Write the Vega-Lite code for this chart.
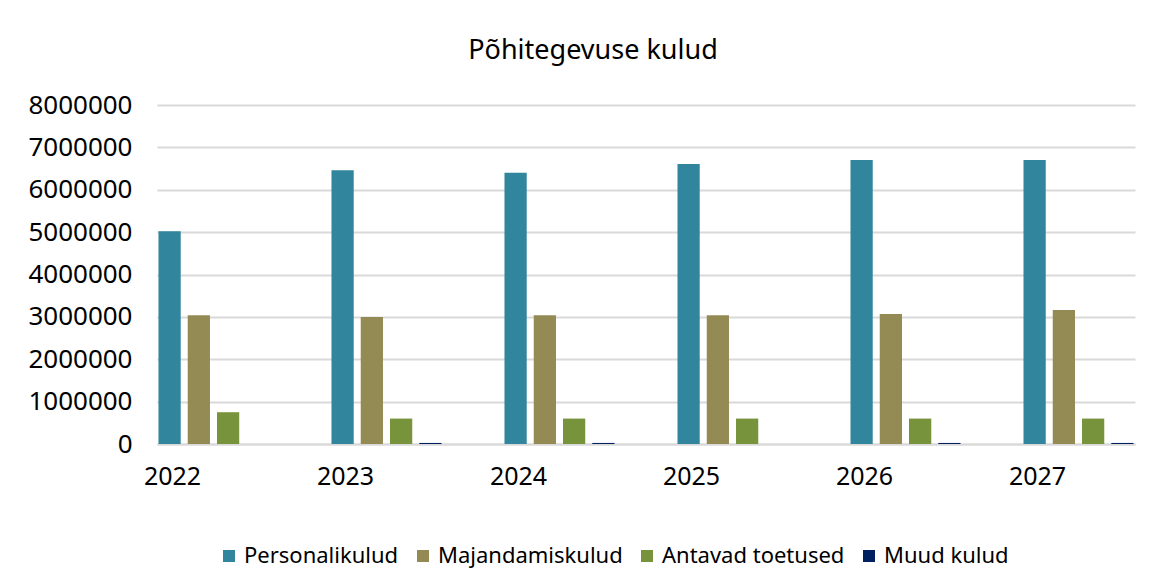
{
  "$schema": "https://vega.github.io/schema/vega-lite/v6.json",
  "width": 978,
  "height": 339,
  "autosize": {"type": "none"},
  "padding": {"left": 157, "top": 105, "right": 29, "bottom": 128},
  "background": "white",
  "title": {
    "text": "Põhitegevuse kulud",
    "font": "Noto Sans",
    "fontSize": 27,
    "fontWeight": "normal",
    "color": "#000000",
    "anchor": "middle",
    "dx": -53,
    "offset": 27
  },
  "data": {
    "values": [
      {"aasta": "2022", "liik": "Personalikulud", "summa": 5020000},
      {"aasta": "2022", "liik": "Majandamiskulud", "summa": 3040000},
      {"aasta": "2022", "liik": "Antavad toetused", "summa": 750000},
      {"aasta": "2022", "liik": "Muud kulud", "summa": 0},
      {"aasta": "2023", "liik": "Personalikulud", "summa": 6460000},
      {"aasta": "2023", "liik": "Majandamiskulud", "summa": 3000000},
      {"aasta": "2023", "liik": "Antavad toetused", "summa": 600000},
      {"aasta": "2023", "liik": "Muud kulud", "summa": 25000},
      {"aasta": "2024", "liik": "Personalikulud", "summa": 6400000},
      {"aasta": "2024", "liik": "Majandamiskulud", "summa": 3040000},
      {"aasta": "2024", "liik": "Antavad toetused", "summa": 600000},
      {"aasta": "2024", "liik": "Muud kulud", "summa": 25000},
      {"aasta": "2025", "liik": "Personalikulud", "summa": 6610000},
      {"aasta": "2025", "liik": "Majandamiskulud", "summa": 3040000},
      {"aasta": "2025", "liik": "Antavad toetused", "summa": 600000},
      {"aasta": "2025", "liik": "Muud kulud", "summa": 0},
      {"aasta": "2026", "liik": "Personalikulud", "summa": 6700000},
      {"aasta": "2026", "liik": "Majandamiskulud", "summa": 3070000},
      {"aasta": "2026", "liik": "Antavad toetused", "summa": 600000},
      {"aasta": "2026", "liik": "Muud kulud", "summa": 25000},
      {"aasta": "2027", "liik": "Personalikulud", "summa": 6700000},
      {"aasta": "2027", "liik": "Majandamiskulud", "summa": 3160000},
      {"aasta": "2027", "liik": "Antavad toetused", "summa": 600000},
      {"aasta": "2027", "liik": "Muud kulud", "summa": 25000}
    ]
  },
  "mark": {"type": "bar"},
  "encoding": {
    "x": {
      "field": "aasta",
      "type": "nominal",
      "scale": {"paddingInner": 0.364, "paddingOuter": 0.0085},
      "axis": {
        "title": null,
        "labelAngle": 0,
        "labelFont": "Noto Sans",
        "labelFontSize": 25,
        "labelColor": "#000000",
        "labelOffset": -41,
        "labelPadding": 20,
        "ticks": false,
        "domain": true,
        "domainColor": "#D9D9D9",
        "domainWidth": 2,
        "grid": false
      }
    },
    "xOffset": {
      "field": "liik",
      "type": "nominal",
      "sort": ["Personalikulud", "Majandamiskulud", "Antavad toetused", "Muud kulud"],
      "scale": {"paddingInner": 0.24, "paddingOuter": 0}
    },
    "y": {
      "field": "summa",
      "type": "quantitative",
      "scale": {"domain": [0, 8000000], "nice": false},
      "axis": {
        "title": null,
        "values": [0, 1000000, 2000000, 3000000, 4000000, 5000000, 6000000, 7000000, 8000000],
        "format": "d",
        "labelFont": "Noto Sans",
        "labelFontSize": 26,
        "labelColor": "#000000",
        "labelPadding": 25,
        "ticks": false,
        "domain": false,
        "grid": true,
        "gridColor": "#D9D9D9",
        "gridWidth": 2
      }
    },
    "color": {
      "field": "liik",
      "type": "nominal",
      "sort": ["Personalikulud", "Majandamiskulud", "Antavad toetused", "Muud kulud"],
      "scale": {
        "domain": ["Personalikulud", "Majandamiskulud", "Antavad toetused", "Muud kulud"],
        "range": ["#31859C", "#948A54", "#77933C", "#002060"]
      },
      "legend": {
        "title": null,
        "orient": "none",
        "legendX": 61,
        "legendY": 440,
        "direction": "horizontal",
        "symbolType": "square",
        "symbolSize": 144,
        "symbolStrokeWidth": 0,
        "labelFont": "Noto Sans",
        "labelFontSize": 22,
        "labelColor": "#000000",
        "labelLimit": 300,
        "columnPadding": 13,
        "labelOffset": 4
      }
    }
  },
  "config": {
    "view": {"stroke": null}
  }
}
